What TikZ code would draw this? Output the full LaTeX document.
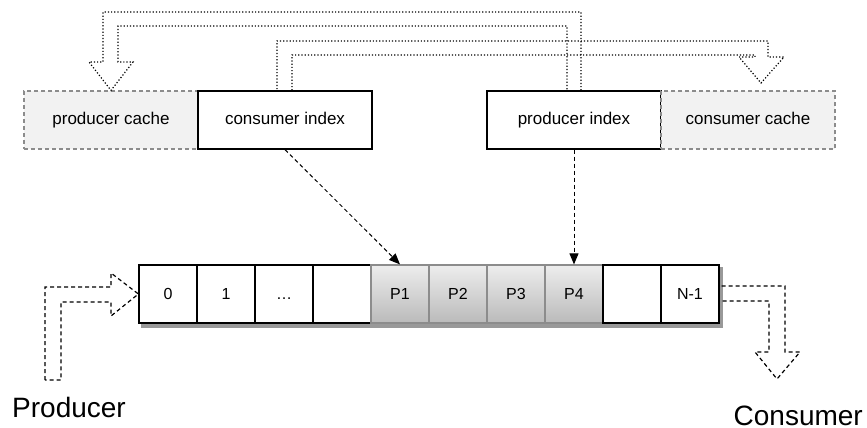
\documentclass[tikz,border=0pt]{standalone}
\usepackage{fontspec}
\setmainfont{Liberation Sans}
\usetikzlibrary{arrows.meta,calc,backgrounds}

\begin{document}
\begin{tikzpicture}[x=1pt, y=-1pt,
    box/.style={draw, line width=1.2pt, minimum width=174pt, minimum height=58pt, inner sep=0pt, text height=12pt, text depth=3.5pt, fill=white, font=\fontsize{17}{20}\selectfont},
    cache/.style={box, draw=black!45, dash pattern=on 4pt off 3pt, fill=black!5},
    cell/.style={draw, line width=1.2pt, minimum width=58pt, minimum height=58pt, inner sep=0pt, text height=11.5pt, text depth=0pt, fill=white, font=\fontsize{16}{19}\selectfont},
    pcell/.style={cell, draw=black!45, top color=black!7, bottom color=black!27},
    arr/.style={-{Triangle[length=11pt,width=9pt]}, line width=1pt, dash pattern=on 4pt off 3pt},
    fat/.style={line width=1.2pt, dash pattern=on 1.2pt off 2pt, line join=miter},
    feed/.style={line width=1.2pt, dash pattern=on 4pt off 3pt},
    big/.style={font=\fontsize{28}{32}\selectfont, inner sep=0pt}
]
\useasboundingbox (0,0) rectangle (867,428);

\node[cache] (pcache) at (111,120) {producer cache};
\node[box] (cidx) at (285,120) {consumer index};
\node[box] (pidx) at (574,120) {producer index};
\node[cache] (ccache) at (748,120) {consumer cache};

\foreach \t/\s [count=\i from 0] in {0/cell,1/cell,\ldots/cell,{}/cell,P1/pcell,P2/pcell,P3/pcell,P4/pcell,{}/cell,N-1/cell}
    \node[\s] (c\i) at ({168+58*\i},294) {\t};

\begin{scope}[on background layer]
\fill[black!40] ($(c0.north west)+(3,3)$) rectangle ($(c9.south east)+(3,4)$);
\end{scope}

\draw[arr] (cidx.south) -- (c4.north);
\draw[arr] (pidx.south) -- (c7.north);

\draw[fat] ($(pidx.north)+(7,0)$) -- (581,12) -- (103,12) -- (103,62) -- (89,62)
    -- (pcache.north) -- (133,62) -- (118,62) -- (118,26) -- (567,26) -- ($(pidx.north)+(-7,0)$);
\draw[fat] ($(cidx.north)+(7,0)$) -- (292,55) -- (755,55) -- (755,57) -- (739,57)
    -- (761,83) -- (784,57) -- (768,57) -- (768,41) -- (277,41) -- ($(cidx.north)+(-8,0)$);

\draw[feed] (45,380) -- (45,287) -- (111,287) -- (111,273) -- (c0.west)
    -- (111,316) -- (111,302) -- (61,302) -- (61,380) -- cycle;
\draw[feed] ($(c9.east)+(2,-8)$) -- (785,286) -- (785,352) -- (800,352) -- (777,379)
    -- (755,352) -- (769,352) -- (769,301) -- ($(c9.east)+(2,7)$);

\node[big, anchor=base west] (prod) at (12,417) {Producer};
\node[big, anchor=base east] (cons) at (863,425) {Consumer};
\end{tikzpicture}
\end{document}
